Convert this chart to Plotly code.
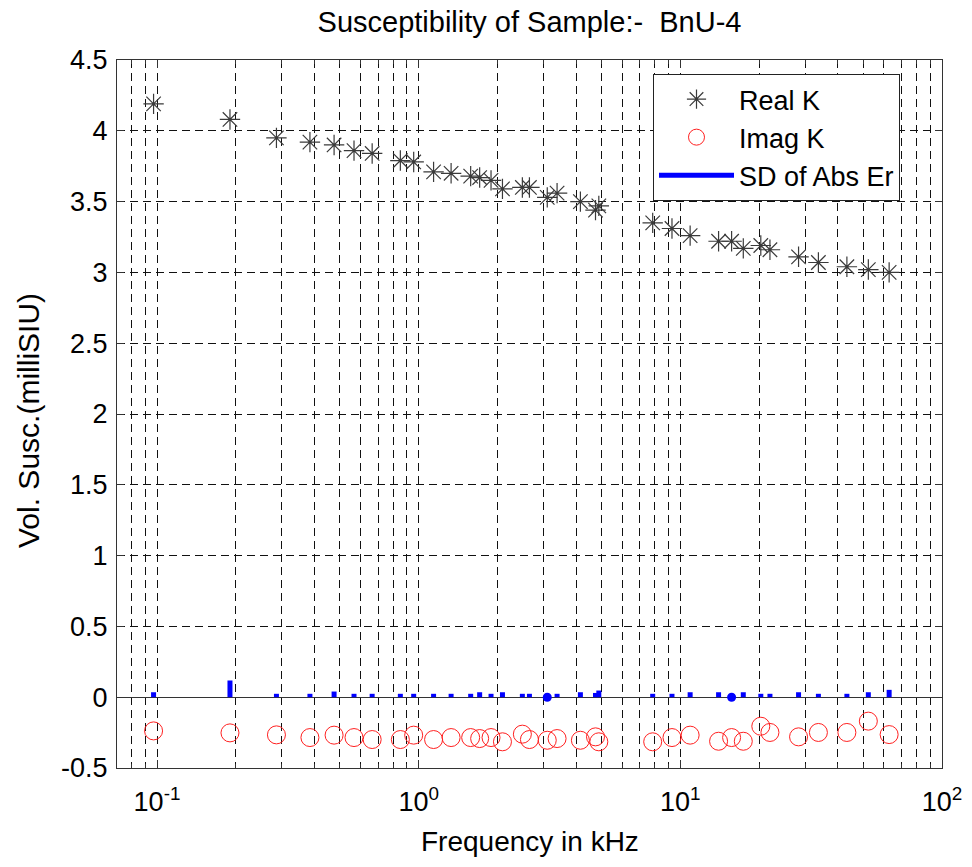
import plotly.graph_objects as go

# ---- data ----
freq_khz = [0.097, 0.19, 0.286, 0.384, 0.475, 0.566, 0.664, 0.851, 0.957, 1.14,
            1.33, 1.58, 1.71, 1.89, 2.09, 2.49, 2.65, 3.10, 3.38, 4.15,
            4.74, 4.88, 7.84, 9.29, 10.9, 14.0, 15.7, 17.4, 20.3, 22.0,
            28.3, 33.7, 43.3, 52.3, 62.8]
real_k = [4.19, 4.08, 3.95, 3.92, 3.90, 3.86, 3.84, 3.79, 3.78, 3.71,
          3.70, 3.68, 3.67, 3.65, 3.59, 3.60, 3.60, 3.53, 3.56, 3.50,
          3.44, 3.47, 3.35, 3.31, 3.26, 3.22, 3.22, 3.17, 3.19, 3.16,
          3.11, 3.07, 3.04, 3.02, 3.00]
imag_k = [-0.238, -0.252, -0.266, -0.285, -0.268, -0.285, -0.299, -0.299, -0.268, -0.299,
          -0.285, -0.285, -0.292, -0.285, -0.315, -0.261, -0.299, -0.304, -0.292, -0.304,
          -0.280, -0.315, -0.315, -0.285, -0.268, -0.311, -0.285, -0.311, -0.205, -0.249,
          -0.280, -0.249, -0.249, -0.169, -0.264]
sd_abs_er = [0.035, 0.118, 0.024, 0.024, 0.040, 0.024, 0.024, 0.024, 0.024, 0.024,
             0.024, 0.024, 0.035, 0.024, 0.035, 0.024, 0.024, 0.0, 0.024, 0.035,
             0.030, 0.047, 0.024, 0.024, 0.035, 0.035, 0.0, 0.035, 0.024, 0.024,
             0.035, 0.024, 0.024, 0.035, 0.052]

y_tick_vals = [-0.5, 0, 0.5, 1, 1.5, 2, 2.5, 3, 3.5, 4, 4.5]
y_tick_text = ["-0.5", "0", "0.5", "1", "1.5", "2", "2.5", "3", "3.5", "4", "4.5"]
x_major_vals = [0.1, 1, 10, 100]
x_major_text = ["10<sup>-1</sup>", "10<sup>0</sup>", "10<sup>1</sup>", "10<sup>2</sup>"]
x_minor_vals = [0.08, 0.09, 0.2, 0.3, 0.4, 0.5, 0.6, 0.7, 0.8, 0.9,
                2, 3, 4, 5, 6, 7, 8, 9, 20, 30, 40, 50, 60, 70, 80, 90]

FONT = "Liberation Sans, Arial, Helvetica, sans-serif"
GRID_DASH = "8px,5px"
STAR_COLOR = "#3a3a3a"

# SD bars as vertical segments from 0 to value
bx, by = [], []
for f, s in zip(freq_khz, sd_abs_er):
    if s > 0:
        bx += [f, f, None]
        by += [0, s, None]
dot_x = [f for f, s in zip(freq_khz, sd_abs_er) if s == 0]
dot_y = [0 for s in sd_abs_er if s == 0]

fig = go.Figure()
fig.add_trace(go.Scatter(x=freq_khz, y=real_k, mode="markers", name="Real K",
                         marker=dict(symbol="asterisk-open", size=17, color=STAR_COLOR,
                                     line=dict(color=STAR_COLOR, width=1.2))))
fig.add_trace(go.Scatter(x=freq_khz, y=imag_k, mode="markers", name="Imag K",
                         marker=dict(symbol="circle-open", size=18, color="#ff2020",
                                     line=dict(color="#ff2020", width=1))))
fig.add_trace(go.Scatter(x=bx, y=by, mode="lines", name="SD of Abs Er",
                         line=dict(color="#0000ff", width=5)))
fig.add_trace(go.Scatter(x=dot_x, y=dot_y, mode="markers", showlegend=False,
                         marker=dict(symbol="circle", size=9, color="#0000ff")))

fig.update_layout(
    width=972, height=867,
    margin=dict(l=117, r=30, t=60, b=99, autoexpand=False),
    paper_bgcolor="white", plot_bgcolor="white",
    font=dict(family=FONT, size=26, color="black"),
    title=dict(text="Susceptibility of Sample:-  BnU-4", x=0.5, xref="paper",
               y=1 - 22 / 867, yref="container", xanchor="center", yanchor="middle",
               font=dict(family=FONT, size=29, color="black")),
    legend=dict(x=(653 - 117) / 825, y=(768 - 74) / 708, xanchor="left", yanchor="top",
                bgcolor="white", bordercolor="#222222", borderwidth=1,
                font=dict(family=FONT, size=27, color="black"),
                itemwidth=75, tracegroupgap=0),
    showlegend=True,
)
fig.update_xaxes(
    type="log", range=[-1.153, 2.0], showline=True, linecolor="#333333", linewidth=1,
    mirror="ticks", ticks="inside", ticklen=8, tickcolor="#333333",
    tickmode="array", tickvals=x_major_vals, ticktext=x_major_text,
    tickfont=dict(family=FONT, size=27, color="black"), ticklabelstandoff=10,
    showgrid=True, gridcolor="#111111", gridwidth=1, griddash=GRID_DASH,
    minor=dict(tickmode="array", tickvals=x_minor_vals, ticks="inside", ticklen=4,
               tickcolor="#333333", showgrid=True, gridcolor="#111111",
               gridwidth=1, griddash=GRID_DASH),
    zeroline=False,
)
fig.update_yaxes(
    range=[-0.5, 4.5], showline=True, linecolor="#333333", linewidth=1,
    mirror="ticks", ticks="inside", ticklen=7, tickcolor="#333333",
    tickmode="array", tickvals=y_tick_vals, ticktext=y_tick_text,
    tickfont=dict(family=FONT, size=27, color="black"), ticklabelstandoff=3,
    showgrid=True, gridcolor="#111111", gridwidth=1, griddash=GRID_DASH,
    zeroline=True, zerolinecolor="#333333", zerolinewidth=1,
)
fig.add_annotation(text="Frequency in kHz", xref="paper", yref="paper",
                   x=0.5, y=-(841 - 768) / 708, xanchor="center", yanchor="middle",
                   showarrow=False, font=dict(family=FONT, size=28, color="black"))
fig.add_annotation(text="Vol. Susc.(milliSIU)", xref="paper", yref="paper",
                   x=(28 - 117) / 825, y=(768 - 421) / 708, xanchor="center", yanchor="middle",
                   textangle=-90, showarrow=False,
                   font=dict(family=FONT, size=30, color="black"))

fig.write_html("out.html")
